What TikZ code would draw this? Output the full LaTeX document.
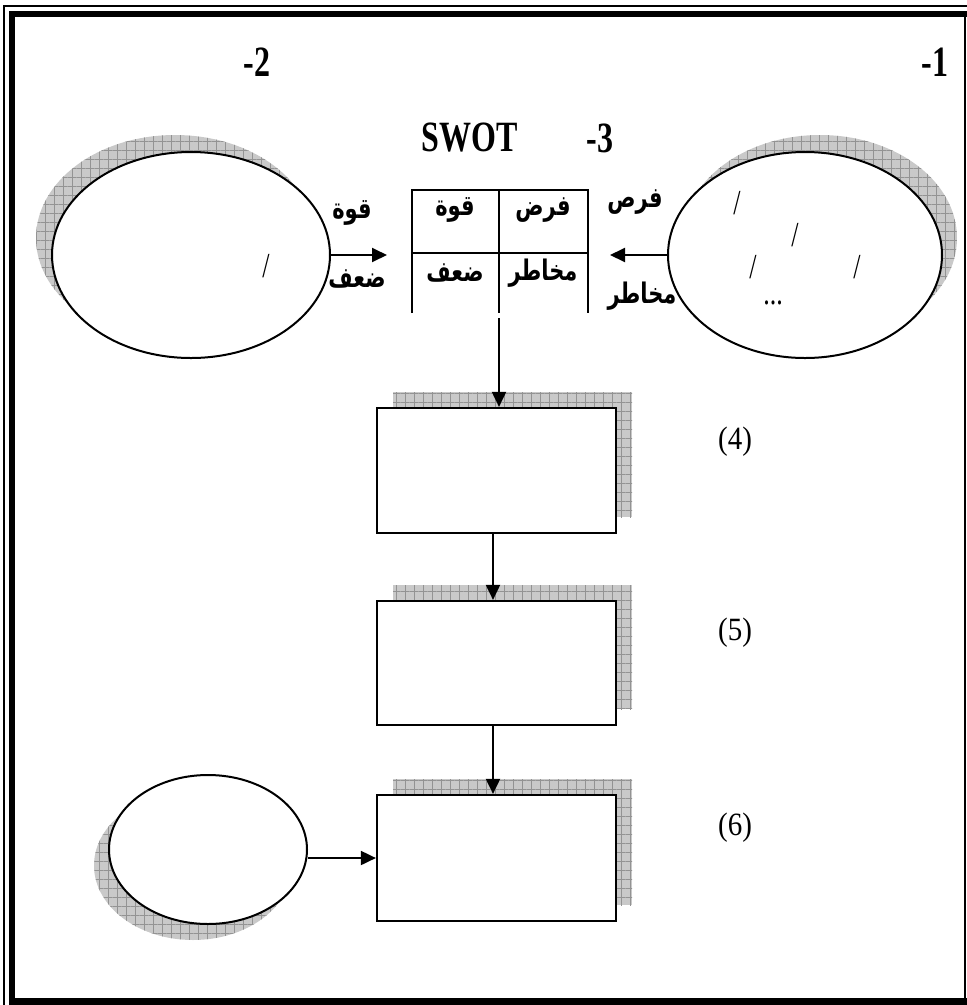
\documentclass[tikz,border=0pt]{standalone}
\usepackage{graphicx}
\usepackage{fontspec}
\setmainfont{Liberation Serif}
\newfontfamily\arabicfont[Script=Arabic]{DejaVu Sans}
\TeXXeTstate=1
\usetikzlibrary{shapes.geometric,arrows.meta,patterns.meta}
\newcommand\vst[1]{\scalebox{1}[1.35]{#1}}
\newcommand\vsm[1]{\scalebox{1}[1.12]{#1}}
\begin{document}
\begin{tikzpicture}[x=1pt,y=-1pt,
  shadowfill/.style={fill=gray!42,postaction={pattern={Hatch[angle=0,distance=9pt,line width=0.5pt]},pattern color=gray!85}},
  ell/.style={ellipse,draw,line width=2pt,fill=white,inner sep=0pt},
  boxn/.style={rectangle,draw,line width=2.2pt,fill=white,inner sep=0pt,minimum width=239pt,minimum height=125pt},
  arr/.style={line width=1.9pt,-{Triangle[length=15pt,width=14pt]}},
  num/.style={font=\bfseries\fontsize{32}{34}\selectfont,inner sep=0pt},
  lbl/.style={font=\fontsize{29}{31}\selectfont,inner sep=0pt},
  ar/.style={font=\arabicfont\bfseries\fontsize{21}{23}\selectfont,inner sep=0pt},
  sl/.style={font=\fontsize{26}{28}\selectfont,inner sep=0pt}]
\useasboundingbox (0,0) rectangle (967,1005);
% frame
\draw[line width=1.5pt] (4,1005) -- (4,6) -- (967,6);
\draw[line width=6.5pt] (12,1005) -- (12,14) -- (967,14);
\draw[line width=2.5pt] (965,14) -- (965,1005);
\draw[line width=7pt] (12,1001.5) -- (967,1001.5);
% titles
\node[num] (t2) at (257,62) {\vst{-2}};
\node[num] (t1) at (935,62) {\vst{-1}};
\node[num] (tswot) at (470,138) {\vst{SWOT}};
\node[num] (t3) at (600,138) {\vst{-3}};
% shadows
\path[shadowfill] (175,238) ellipse [x radius=139pt, y radius=103pt];
\path[shadowfill] (820,238) ellipse [x radius=137pt, y radius=103pt];
\path[shadowfill] (193,865.5) ellipse [x radius=99pt, y radius=74.5pt];
\path[shadowfill] (393,392) rectangle (632,517);
\path[shadowfill] (393,585) rectangle (632,709);
\path[shadowfill] (393,779) rectangle (632,905);
% ellipses
\node[ell,minimum width=278pt,minimum height=206pt] (E2) at (191,255) {};
\node[ell,minimum width=274pt,minimum height=206pt] (E1) at (805,255) {};
\node[ell,minimum width=198pt,minimum height=149pt] (E6) at (208,849.5) {};
% boxes
\node[boxn] (B4) at (496.5,470.5) {};
\node[boxn,minimum height=124pt] (B5) at (496.5,663) {};
\node[boxn,minimum height=126pt] (B6) at (496.5,858) {};
% table
\draw[line width=1.6pt] (412,313) -- (412,190) -- (588,190) -- (588,313);
\draw[line width=1.6pt] (499,190) -- (499,313);
\draw[line width=1.6pt] (412,253) -- (588,253);
\coordinate (tbl) at (499,318);
\node[ar] (c11) at (455,210) {\vst{\beginR قوة\endR}};
\node[ar] (c12) at (543,210) {\vst{\beginR فرض\endR}};
\node[ar] (c21) at (455,273) {\vst{\beginR ضعف\endR}};
\node[ar] (c22) at (543,273) {\vst{\beginR مخاطر\endR}};
% side labels
\node[ar] (lq) at (352,213) {\vst{\beginR قوة\endR}};
\node[ar] (ld) at (357,279) {\vst{\beginR ضعف\endR}};
\node[ar] (rf) at (635,202) {\vst{\beginR فرص\endR}};
\node[ar] (rm) at (642,296) {\vst{\beginR مخاطر\endR}};
% slashes
\node[sl] (s0) at (266,266) {\vst{/}};
\node[sl] (s1) at (737,203) {\vst{/}};
\node[sl] (s2) at (795,235) {\vst{/}};
\node[sl] (s3) at (753,267) {\vst{/}};
\node[sl] (s4) at (857,267) {\vst{/}};
\node[sl] (s5) at (773,303) {\vst{...}};
% numbers
\node[lbl] (n4) at (735,442) {\vsm{(4)}};
\node[lbl] (n5) at (735,633) {\vsm{(5)}};
\node[lbl] (n6) at (735,828) {\vsm{(6)}};
% connectors
\coordinate (la) at (387,255);
\coordinate (ra) at (610,255);
\draw[arr] (E2.east) -- (la);
\draw[arr] (E1.west) -- (ra);
\draw[arr] (tbl) -- (tbl |- B4.north);
\draw[arr] (B4.south -| 493,0) -- (B5.north -| 493,0);
\draw[arr] (B5.south -| 493,0) -- (B6.north -| 493,0);
\draw[arr] (E6.east |- B6.west) -- (B6.west);
\end{tikzpicture}
\end{document}
